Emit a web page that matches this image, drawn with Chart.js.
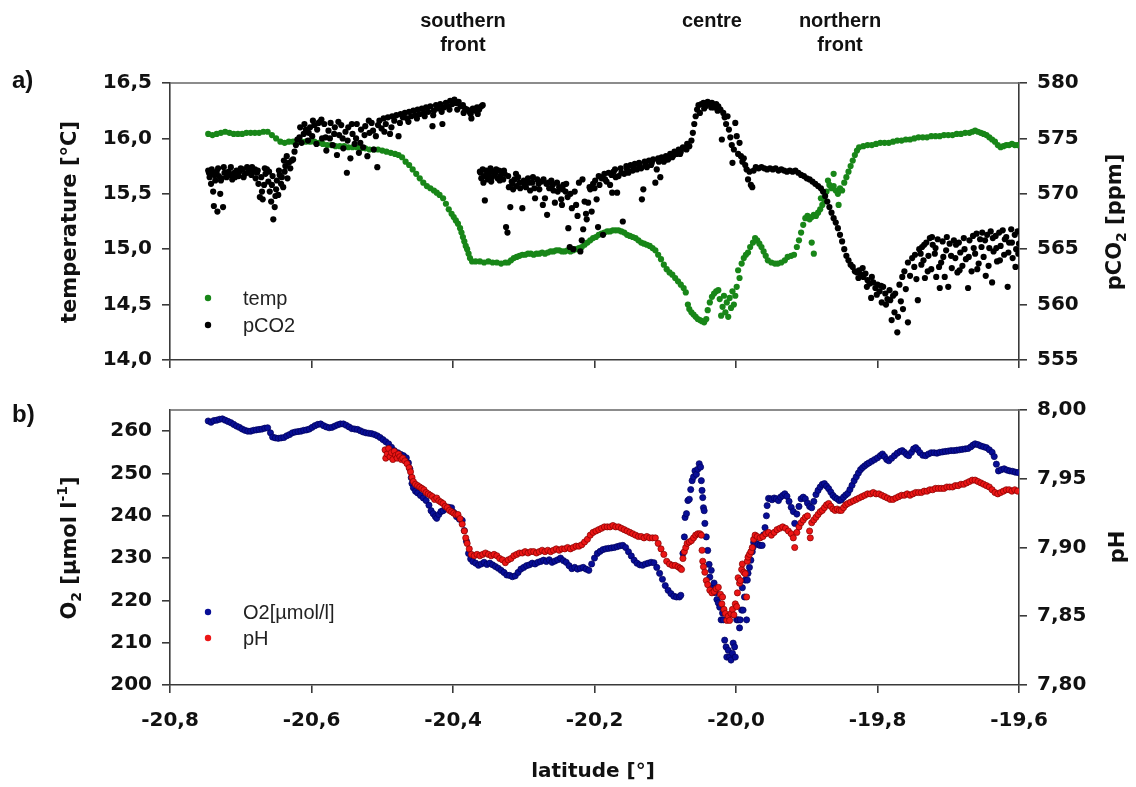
<!DOCTYPE html>
<html>
<head>
<meta charset="utf-8">
<script src="https://cdn.jsdelivr.net/npm/chart.js@4.4.1/dist/chart.umd.min.js"></script>
<style>
  body { margin: 0; background: #fff; }
  #wrap { position: relative; width: 1136px; height: 787px; }
  canvas { position: absolute; left: 0; }
</style>
</head>
<body>
<div id="wrap">
  <canvas id="chartA" width="1136" height="388" style="top:0px"></canvas>
  <canvas id="chartB" width="1136" height="399" style="top:388px"></canvas>
</div>
<script>
// tick values
const latTicks = [-20.8, -20.6, -20.4, -20.2, -20.0, -19.8, -19.6];
const tempTicks = [14.0, 14.5, 15.0, 15.5, 16.0, 16.5];
const pco2Ticks = [555, 560, 565, 570, 575, 580];
const o2Ticks = [200, 210, 220, 230, 240, 250, 260];
const phTicks = [7.80, 7.85, 7.90, 7.95, 8.00];

// front names on top, at their latitude
const frontNames = [["southern", "front"], ["centre"], ["northern", "front"]];
const frontLat = [-20.386, -20.034, -19.853];

// [latitude, temperature °C]
const tempData = [
  [-20.746,16.04],[-20.740,16.03],[-20.734,16.04],[-20.728,16.05],[-20.722,16.06],[-20.716,16.05],[-20.710,16.04],[-20.704,16.04],
  [-20.698,16.04],[-20.692,16.05],[-20.686,16.05],[-20.680,16.05],[-20.674,16.05],[-20.668,16.06],[-20.662,16.06],[-20.656,16.03],
  [-20.650,16.00],[-20.644,15.97],[-20.638,15.96],[-20.632,15.97],[-20.626,15.97],[-20.620,15.97],[-20.614,15.97],[-20.608,15.97],
  [-20.602,15.97],[-20.596,15.97],[-20.590,15.96],[-20.584,15.95],[-20.578,15.94],[-20.572,15.94],[-20.566,15.93],[-20.560,15.93],
  [-20.554,15.93],[-20.548,15.92],[-20.542,15.92],[-20.536,15.92],[-20.530,15.91],[-20.524,15.91],[-20.518,15.90],[-20.512,15.90],
  [-20.506,15.90],[-20.500,15.89],[-20.494,15.88],[-20.488,15.87],[-20.482,15.86],[-20.477,15.85],[-20.472,15.83],[-20.467,15.79],
  [-20.462,15.76],[-20.457,15.72],[-20.452,15.68],[-20.447,15.64],[-20.442,15.60],[-20.437,15.57],[-20.432,15.55],[-20.427,15.53],
  [-20.423,15.51],[-20.419,15.49],[-20.414,15.46],[-20.410,15.41],[-20.406,15.36],[-20.402,15.32],[-20.399,15.29],[-20.396,15.26],
  [-20.393,15.23],[-20.390,15.19],[-20.388,15.15],[-20.386,15.11],[-20.384,15.07],[-20.382,15.03],[-20.380,15.00],[-20.378,14.96],
  [-20.376,14.92],[-20.373,14.89],[-20.368,14.89],[-20.362,14.89],[-20.356,14.88],[-20.350,14.89],[-20.344,14.88],[-20.338,14.88],
  [-20.332,14.87],[-20.326,14.88],[-20.322,14.88],[-20.318,14.90],[-20.314,14.92],[-20.310,14.93],[-20.306,14.94],[-20.302,14.95],
  [-20.298,14.95],[-20.294,14.96],[-20.290,14.96],[-20.286,14.95],[-20.282,14.96],[-20.278,14.96],[-20.274,14.97],[-20.270,14.96],
  [-20.266,14.97],[-20.262,14.98],[-20.258,14.98],[-20.254,14.99],[-20.250,14.99],[-20.246,14.98],[-20.242,14.98],[-20.238,14.99],
  [-20.234,14.98],[-20.230,14.99],[-20.226,15.00],[-20.222,15.01],[-20.218,15.02],[-20.214,15.04],[-20.210,15.06],[-20.206,15.08],
  [-20.202,15.10],[-20.198,15.11],[-20.194,15.13],[-20.190,15.14],[-20.186,15.15],[-20.182,15.16],[-20.178,15.16],[-20.174,15.17],
  [-20.170,15.17],[-20.166,15.17],[-20.162,15.16],[-20.158,15.15],[-20.154,15.13],[-20.150,15.12],[-20.146,15.11],[-20.142,15.10],
  [-20.138,15.08],[-20.134,15.06],[-20.130,15.05],[-20.126,15.04],[-20.122,15.03],[-20.118,15.01],[-20.114,14.99],[-20.110,14.95],
  [-20.106,14.91],[-20.102,14.86],[-20.098,14.82],[-20.094,14.79],[-20.090,14.77],[-20.086,14.74],[-20.082,14.71],[-20.078,14.68],
  [-20.074,14.65],[-20.071,14.61],[-20.068,14.50],[-20.066,14.46],[-20.063,14.43],[-20.060,14.41],[-20.057,14.39],[-20.054,14.37],
  [-20.051,14.36],[-20.048,14.35],[-20.045,14.34],[-20.042,14.37],[-20.040,14.45],[-20.037,14.52],[-20.034,14.57],[-20.031,14.60],
  [-20.028,14.62],[-20.025,14.63],[-20.023,14.55],[-20.021,14.40],[-20.019,14.48],[-20.017,14.58],[-20.015,14.43],[-20.013,14.52],
  [-20.011,14.39],[-20.009,14.56],[-20.007,14.47],[-20.005,14.62],[-20.003,14.50],[-20.001,14.58],[-19.999,14.66],[-19.997,14.81],
  [-19.995,14.74],[-19.992,14.87],[-19.989,14.92],[-19.986,14.95],[-19.983,14.97],[-19.980,15.02],[-19.976,15.06],[-19.973,15.10],
  [-19.970,15.08],[-19.967,15.05],[-19.964,15.02],[-19.961,14.98],[-19.958,14.94],[-19.955,14.90],[-19.950,14.88],[-19.945,14.87],
  [-19.941,14.87],[-19.936,14.88],[-19.931,14.90],[-19.927,14.93],[-19.922,14.94],[-19.918,14.95],[-19.914,15.02],[-19.911,15.08],
  [-19.908,15.15],[-19.905,15.22],[-19.902,15.28],[-19.899,15.30],[-19.896,15.27],[-19.893,15.29],[-19.893,15.06],[-19.890,15.31],
  [-19.890,14.96],[-19.887,15.30],[-19.884,15.33],[-19.881,15.36],[-19.880,15.46],[-19.878,15.40],[-19.875,15.44],[-19.872,15.52],
  [-19.870,15.62],[-19.868,15.58],[-19.865,15.55],[-19.862,15.57],[-19.862,15.68],[-19.859,15.53],[-19.856,15.50],[-19.855,15.40],
  [-19.853,15.55],[-19.850,15.53],[-19.847,15.60],[-19.844,15.65],[-19.841,15.70],[-19.838,15.75],[-19.835,15.80],[-19.832,15.85],
  [-19.829,15.89],[-19.826,15.92],[-19.820,15.93],[-19.814,15.94],[-19.808,15.94],[-19.802,15.95],[-19.796,15.96],[-19.790,15.96],
  [-19.784,15.96],[-19.778,15.97],[-19.772,15.98],[-19.766,15.98],[-19.760,15.99],[-19.754,15.99],[-19.748,16.00],[-19.742,16.01],
  [-19.736,16.01],[-19.730,16.01],[-19.724,16.02],[-19.718,16.02],[-19.712,16.02],[-19.706,16.03],[-19.700,16.03],[-19.694,16.03],
  [-19.688,16.04],[-19.682,16.04],[-19.676,16.05],[-19.670,16.05],[-19.666,16.06],[-19.662,16.07],[-19.658,16.06],[-19.654,16.05],
  [-19.650,16.04],[-19.646,16.03],[-19.642,16.01],[-19.638,15.99],[-19.634,15.97],[-19.630,15.94],[-19.626,15.92],[-19.622,15.93],
  [-19.618,15.94],[-19.614,15.94],[-19.610,15.95],[-19.606,15.94],[-19.602,15.94]
];

// [latitude, pCO2 ppm]
const pco2Data = [
  [-20.746,572.1],[-20.744,571.5],[-20.742,570.9],[-20.740,571.8],[-20.739,570.2],[-20.738,568.9],[-20.736,571.2],[-20.734,572.0],
  [-20.733,568.4],[-20.731,571.6],[-20.729,570.0],[-20.727,571.4],[-20.725,568.8],[-20.723,571.9],[-20.720,571.5],[-20.717,572.0],
  [-20.715,571.7],[-20.712,571.3],[-20.709,571.9],[-20.706,572.1],[-20.703,571.6],[-20.700,572.3],[-20.697,572.2],[-20.694,571.8],
  [-20.691,572.4],[-20.688,572.1],[-20.685,571.7],[-20.682,572.0],[-20.679,571.4],[-20.677,571.9],[-20.675,570.9],[-20.673,569.7],
  [-20.671,571.5],[-20.669,569.5],[-20.667,570.8],[-20.665,571.8],[-20.663,572.2],[-20.661,571.1],[-20.659,570.2],[-20.657,569.3],
  [-20.655,571.6],[-20.654,567.7],[-20.652,568.8],[-20.650,570.4],[-20.649,571.2],[-20.647,569.9],[-20.645,571.7],[-20.643,570.9],
  [-20.640,570.6],[-20.638,572.0],[-20.637,572.5],[-20.634,571.4],[-20.632,572.8],[-20.630,572.3],[-20.628,573.0],[-20.626,573.1],
  [-20.624,573.8],[-20.622,574.4],[-20.620,574.9],[-20.617,575.1],[-20.614,574.6],[-20.611,575.4],[-20.608,575.8],[-20.605,574.8],
  [-20.602,576.0],[-20.599,575.2],[-20.596,576.2],[-20.593,574.5],[-20.590,576.4],[-20.588,576.5],[-20.585,575.0],[-20.582,576.3],
  [-20.579,573.9],[-20.576,575.7],[-20.573,576.4],[-20.570,574.4],[-20.567,576.0],[-20.564,573.5],[-20.561,575.3],[-20.558,576.2],
  [-20.555,574.1],[-20.552,575.6],[-20.550,571.9],[-20.548,576.0],[-20.545,573.2],[-20.542,575.4],[-20.539,574.5],[-20.536,576.3],
  [-20.533,573.7],[-20.530,575.8],[-20.527,574.2],[-20.524,576.1],[-20.521,573.4],[-20.518,575.5],[-20.515,576.4],[-20.512,574.0],
  [-20.509,575.2],[-20.507,572.4],[-20.504,576.6],[-20.501,575.9],[-20.498,576.8],[-20.495,576.3],[-20.492,576.9],[-20.489,575.4],
  [-20.486,577.0],[-20.483,576.6],[-20.480,577.1],[-20.477,575.2],[-20.474,577.2],[-20.471,576.9],[-20.468,577.3],[-20.465,576.8],
  [-20.462,577.4],[-20.459,577.0],[-20.456,577.5],[-20.453,577.1],[-20.450,577.6],[-20.447,577.2],[-20.444,577.7],[-20.441,577.3],
  [-20.438,577.8],[-20.435,577.4],[-20.432,577.9],[-20.429,576.1],[-20.427,577.5],[-20.424,578.0],[-20.421,577.7],[-20.418,578.1],
  [-20.415,576.3],[-20.413,577.8],[-20.410,578.2],[-20.407,577.9],[-20.404,578.4],[-20.401,578.1],[-20.398,578.5],[-20.395,578.2],
  [-20.392,578.3],[-20.389,577.9],[-20.386,578.0],[-20.383,577.7],[-20.380,577.6],[-20.377,577.4],[-20.374,576.8],[-20.372,577.7],
  [-20.369,577.5],[-20.366,577.8],[-20.363,577.6],[-20.360,577.9],[-20.358,578.0],
  [-20.745,571.9],[-20.741,572.2],[-20.737,571.7],[-20.732,572.3],[-20.728,571.2],[-20.724,572.4],[-20.719,571.8],[-20.714,572.4],
  [-20.708,571.5],[-20.702,572.0],[-20.696,571.5],[-20.690,571.9],[-20.684,572.4],[-20.680,572.2],[-20.676,572.1],[-20.670,570.2],
  [-20.666,572.3],[-20.660,572.0],[-20.656,570.8],[-20.651,569.8],[-20.646,572.1],[-20.642,571.5],[-20.639,573.0],[-20.635,573.4],
  [-20.616,576.0],[-20.610,576.3],[-20.604,575.5],[-20.598,576.6],[-20.592,575.8],[-20.586,576.7],[-20.580,575.1],[-20.574,575.0],
  [-20.568,575.4],[-20.562,576.5],[-20.556,575.0],[-20.549,574.8],[-20.543,576.3],[-20.537,575.0],[-20.531,574.6],[-20.525,575.3],
  [-20.519,576.6],[-20.513,575.7],[-20.506,576.2],[-20.497,575.6],[-20.487,576.0],[-20.475,576.4],[-20.463,576.5],[-20.451,576.8],
  [-20.440,577.0],[-20.428,577.1],[-20.416,577.4],[-20.405,577.6],[-20.394,577.6],[-20.385,577.3],[-20.375,577.2],[-20.365,577.2],
  [-20.362,572.0],[-20.360,571.4],[-20.358,572.2],[-20.356,571.6],[-20.355,569.4],[-20.353,572.1],[-20.351,571.3],[-20.349,571.9],
  [-20.347,572.3],[-20.345,571.5],[-20.343,572.0],[-20.341,571.7],[-20.339,572.2],[-20.337,571.4],[-20.335,572.1],[-20.333,571.6],
  [-20.331,572.0],[-20.329,571.3],[-20.327,571.8],[-20.325,567.0],[-20.323,566.5],[-20.321,570.6],[-20.319,568.8],[-20.317,571.1],
  [-20.315,570.4],[-20.313,571.3],[-20.310,570.7],[-20.308,571.5],[-20.305,570.5],[-20.302,568.7],[-20.300,571.2],[-20.297,570.6],
  [-20.294,571.4],[-20.291,570.3],[-20.288,571.0],[-20.285,570.5],[-20.284,569.6],[-20.281,571.3],[-20.278,570.4],[-20.275,571.1],
  [-20.273,569.0],[-20.270,569.6],[-20.268,570.9],[-20.267,568.1],[-20.264,570.5],[-20.261,571.2],[-20.258,570.3],[-20.256,569.2],
  [-20.253,571.0],[-20.250,570.6],[-20.247,569.5],[-20.246,569.0],[-20.244,570.8],[-20.241,570.2],[-20.238,569.7],[-20.237,566.9],
  [-20.235,565.2],[-20.234,570.0],[-20.232,568.7],[-20.230,565.0],[-20.228,570.2],[-20.226,569.0],[-20.224,568.0],[-20.222,571.0],
  [-20.220,564.8],[-20.218,565.8],[-20.217,571.3],[-20.216,566.8],[-20.214,569.3],[-20.212,568.2],[-20.211,567.7],[-20.209,569.2],
  [-20.207,570.6],[-20.206,570.4],[-20.204,568.4],[-20.202,570.9],[-20.199,571.2],[-20.197,569.5],[-20.195,567.0],[-20.193,570.8],
  [-20.190,571.4],[-20.189,571.5],[-20.188,566.3],[-20.186,571.8],[-20.183,571.1],[-20.180,571.9],[-20.178,570.8],[-20.175,570.1],
  [-20.173,572.0],[-20.171,572.2],[-20.168,570.1],[-20.166,571.6],[-20.163,572.3],[-20.160,567.5],[-20.158,571.8],[-20.155,572.5],
  [-20.152,571.9],[-20.149,572.6],[-20.146,572.1],[-20.143,572.7],[-20.140,572.2],[-20.137,572.8],[-20.134,572.3],[-20.133,569.5],
  [-20.131,570.4],[-20.129,572.9],[-20.126,572.4],[-20.123,573.0],[-20.120,572.6],[-20.117,573.1],[-20.114,571.0],[-20.112,572.2],
  [-20.110,573.2],[-20.107,571.5],[-20.105,573.3],[-20.102,572.9],[-20.099,573.4],[-20.096,573.1],[-20.093,573.6],[-20.090,573.3],
  [-20.087,573.8],[-20.084,573.6],[-20.081,574.0],[-20.078,573.8],[-20.075,574.2],[-20.072,574.1],[-20.069,574.5],[-20.066,574.3],
  [-20.063,574.8],[-20.061,575.5],[-20.059,576.3],[-20.057,577.0],[-20.055,577.6],[-20.053,578.0],[-20.051,577.3],[-20.049,578.1],
  [-20.046,578.2],[-20.043,577.9],[-20.040,578.3],[-20.037,578.1],[-20.034,578.2],[-20.031,577.8],[-20.028,578.1],[-20.025,577.9],
  [-20.022,577.6],[-20.020,574.9],[-20.018,577.3],[-20.016,576.9],[-20.014,576.3],[-20.012,577.0],[-20.010,575.8],[-20.008,575.1],
  [-20.006,574.4],[-20.005,572.8],[-20.003,574.0],[-20.001,576.4],[-19.999,575.2],[-19.997,573.6],[-19.995,574.6],[-19.993,573.4],
  [-19.991,572.9],[-19.989,573.2],[-19.987,572.6],[-19.985,572.2],[-19.983,571.3],[-19.981,572.0],[-19.979,570.8],[-19.977,570.6],
  [-20.361,571.9],[-20.357,571.0],[-20.352,571.7],[-20.346,571.1],[-20.340,571.9],[-20.334,571.2],[-20.328,572.1],[-20.322,571.6],
  [-20.316,570.9],[-20.311,571.8],[-20.306,571.0],[-20.299,570.8],[-20.293,571.0],[-20.287,571.5],[-20.279,570.9],[-20.272,571.3],
  [-20.265,571.0],[-20.259,570.8],[-20.252,570.2],[-20.245,570.4],[-20.240,570.9],[-20.200,570.5],[-20.194,571.6],[-20.185,571.3],
  [-20.176,571.7],[-20.170,571.5],[-20.162,571.9],[-20.154,572.2],[-20.145,572.4],[-20.136,572.5],[-20.128,572.6],[-20.119,572.8],
  [-20.109,572.9],[-20.098,573.1],[-20.088,573.5],[-20.079,573.6],[-20.070,574.0],[-20.045,577.7],[-20.035,577.8],[-20.026,577.5],
  [-19.975,572.1],[-19.972,572.4],[-19.968,572.3],[-19.964,572.4],[-19.960,572.3],[-19.956,572.2],[-19.952,572.3],[-19.948,572.2],
  [-19.944,572.3],[-19.940,572.1],[-19.936,572.2],[-19.932,572.1],[-19.928,572.0],[-19.924,572.1],[-19.920,572.0],[-19.916,572.1],
  [-19.912,571.9],[-19.908,571.7],[-19.904,571.6],[-19.900,571.4],[-19.896,571.3],[-19.892,571.1],[-19.888,570.9],[-19.884,570.7],
  [-19.880,570.5],[-19.877,570.2],[-19.874,569.8],[-19.871,569.3],[-19.868,568.8],[-19.865,568.3],[-19.862,567.8],[-19.859,567.4],
  [-19.856,566.9],[-19.853,566.3],[-19.850,565.7],[-19.847,565.0],[-19.844,564.4],[-19.841,564.0],[-19.838,563.6],[-19.835,563.4],
  [-19.832,563.0],[-19.829,562.9],[-19.826,563.1],[-19.823,562.7],[-19.820,562.5],[-19.817,562.8],[-19.814,562.2],[-19.811,561.9],
  [-19.809,560.6],[-19.806,562.0],[-19.803,561.5],[-19.800,561.8],[-19.797,561.2],[-19.794,560.2],[-19.792,561.6],[-19.789,561.0],
  [-19.786,560.5],[-19.783,561.3],[-19.780,558.6],[-19.778,560.8],[-19.775,561.0],[-19.772,557.5],[-19.771,558.9],[-19.769,561.8],
  [-19.767,560.3],[-19.765,562.5],[-19.764,559.6],[-19.762,563.0],[-19.760,561.4],[-19.757,563.8],[-19.757,558.4],[-19.754,562.6],
  [-19.751,564.2],[-19.748,563.4],[-19.747,564.5],[-19.745,562.3],[-19.743,560.4],[-19.741,565.0],[-19.738,563.6],[-19.737,565.2],
  [-19.735,564.0],[-19.733,562.4],[-19.731,565.6],[-19.728,564.4],[-19.726,566.0],[-19.724,563.2],[-19.722,565.4],[-19.719,564.6],
  [-19.717,562.5],[-19.715,565.9],[-19.712,561.5],[-19.710,563.8],[-19.708,565.7],[-19.705,562.5],[-19.703,564.9],[-19.700,561.6],
  [-19.698,565.5],[-19.695,563.3],[-19.692,565.8],[-19.690,564.2],[-19.687,562.9],[-19.685,565.6],[-19.683,564.7],[-19.680,563.5],
  [-19.678,566.0],[-19.675,564.1],[-19.672,561.5],[-19.670,565.8],[-19.667,563.0],[-19.665,566.2],[-19.662,564.6],[-19.660,566.4],
  [-19.657,563.7],[-19.655,565.9],[-19.652,566.5],[-19.650,564.3],[-19.647,562.6],[-19.645,566.3],[-19.642,565.1],[-19.640,566.6],
  [-19.638,562.0],[-19.636,564.8],[-19.633,566.2],[-19.631,563.9],[-19.628,566.5],[-19.626,565.3],[-19.623,566.7],[-19.621,564.5],
  [-19.618,566.1],[-19.616,561.6],[-19.614,565.6],[-19.611,566.8],[-19.609,564.2],[-19.606,566.3],[-19.604,565.0],[-19.602,566.6],
  [-19.600,565.5],
  [-19.827,562.4],[-19.821,563.3],[-19.815,561.6],[-19.808,562.5],[-19.801,560.9],[-19.795,561.7],[-19.788,560.0],[-19.782,560.4],
  [-19.776,559.3],[-19.739,564.6],[-19.734,565.4],[-19.729,563.0],[-19.723,566.1],[-19.718,565.1],[-19.713,563.4],[-19.707,564.3],
  [-19.702,566.1],[-19.696,564.4],[-19.689,565.4],[-19.684,563.1],[-19.677,565.0],[-19.671,564.3],[-19.664,565.1],[-19.659,563.2],
  [-19.653,565.2],[-19.648,565.8],[-19.643,563.5],[-19.637,566.0],[-19.632,565.1],[-19.627,564.0],[-19.620,565.9],[-19.615,564.7],
  [-19.610,565.6],[-19.605,563.4],[-19.601,564.6]
];

// [latitude, O2 µmol/l]
const o2Data = [
  [-20.746,262.4],[-20.742,262.1],[-20.738,262.5],[-20.734,262.6],[-20.730,262.8],[-20.726,262.9],[-20.722,262.6],[-20.718,262.3],
  [-20.714,262.0],[-20.710,261.6],[-20.706,261.2],[-20.702,260.9],[-20.698,260.5],[-20.694,260.2],[-20.690,260.0],[-20.686,260.0],
  [-20.682,260.2],[-20.678,260.3],[-20.674,260.4],[-20.670,260.5],[-20.666,260.7],[-20.662,260.8],[-20.658,259.6],[-20.655,258.6],
  [-20.651,258.4],[-20.647,258.3],[-20.643,258.4],[-20.639,258.5],[-20.635,258.9],[-20.631,259.2],[-20.627,259.6],[-20.623,259.8],
  [-20.619,259.9],[-20.615,260.0],[-20.611,260.2],[-20.607,260.3],[-20.603,260.5],[-20.599,260.9],[-20.595,261.3],[-20.591,261.6],
  [-20.587,261.7],[-20.583,261.3],[-20.579,261.0],[-20.575,260.8],[-20.571,260.9],[-20.567,261.2],[-20.563,261.5],[-20.559,261.7],
  [-20.555,261.7],[-20.551,261.4],[-20.547,261.0],[-20.543,260.6],[-20.539,260.5],[-20.535,260.4],[-20.531,260.1],[-20.527,259.8],
  [-20.523,259.6],[-20.519,259.5],[-20.515,259.4],[-20.511,259.2],[-20.507,258.9],[-20.503,258.5],[-20.499,258.0],[-20.495,257.5],
  [-20.491,257.0],[-20.487,256.2],[-20.483,255.4],[-20.478,254.9],[-20.474,254.5],[-20.470,254.2],[-20.466,253.7],[-20.463,252.5],
  [-20.461,251.1],[-20.459,249.0],[-20.458,247.6],[-20.456,246.6],[-20.453,245.8],[-20.450,245.4],[-20.446,244.8],[-20.442,244.2],
  [-20.438,243.6],[-20.434,242.5],[-20.431,241.2],[-20.428,240.5],[-20.425,239.8],[-20.423,239.4],[-20.420,240.3],[-20.417,241.0],
  [-20.414,241.2],[-20.410,241.6],[-20.406,242.0],[-20.402,241.9],[-20.399,240.8],[-20.395,239.8],[-20.391,239.2],[-20.387,238.9],
  [-20.384,236.5],[-20.381,234.0],[-20.378,231.1],[-20.375,229.8],[-20.372,229.2],[-20.368,228.8],[-20.364,228.3],[-20.360,228.6],
  [-20.356,229.0],[-20.352,228.5],[-20.348,228.8],[-20.344,228.4],[-20.340,228.0],[-20.336,227.6],[-20.332,227.1],[-20.328,226.6],
  [-20.324,226.0],[-20.320,225.9],[-20.316,225.6],[-20.312,225.8],[-20.308,226.6],[-20.304,227.4],[-20.300,227.8],[-20.296,228.2],
  [-20.292,228.4],[-20.288,228.8],[-20.284,228.6],[-20.280,229.0],[-20.276,229.2],[-20.272,229.5],[-20.268,229.2],[-20.264,229.6],
  [-20.260,229.0],[-20.256,229.3],[-20.252,229.6],[-20.248,230.0],[-20.244,229.4],[-20.240,229.0],[-20.236,228.2],[-20.232,227.5],
  [-20.228,227.8],[-20.224,227.4],[-20.220,227.6],[-20.216,227.8],[-20.212,227.4],[-20.208,227.1],[-20.204,228.6],[-20.200,230.0],
  [-20.196,231.1],[-20.192,231.6],[-20.188,232.0],[-20.184,232.2],[-20.180,232.3],[-20.176,232.4],[-20.172,232.5],[-20.168,232.7],
  [-20.164,232.9],[-20.160,233.0],[-20.156,232.5],[-20.152,231.5],[-20.148,230.5],[-20.144,229.5],[-20.140,228.8],[-20.136,228.4],
  [-20.132,228.3],[-20.128,228.6],[-20.124,228.8],[-20.120,229.0],[-20.116,228.9],[-20.112,227.8],[-20.108,226.4],[-20.104,225.0],
  [-20.100,223.5],[-20.096,222.4],[-20.092,221.6],[-20.088,221.0],[-20.084,220.8],[-20.080,220.8],[-20.078,221.2],
  [-20.075,231.1],[-20.073,235.0],[-20.072,239.6],[-20.070,240.5],[-20.068,243.6],[-20.066,243.9],[-20.064,246.2],[-20.062,248.3],
  [-20.060,249.2],[-20.058,250.6],[-20.056,249.8],[-20.054,251.0],[-20.052,252.3],[-20.050,251.5],[-20.049,248.3],[-20.048,246.0],
  [-20.047,244.3],[-20.046,241.9],[-20.045,241.2],[-20.044,238.2],[-20.042,235.0],[-20.040,231.8],[-20.038,228.5],[-20.037,225.5],
  [-20.035,227.1],[-20.033,223.1],[-20.031,224.1],[-20.029,221.8],[-20.027,220.2],[-20.025,219.4],[-20.023,218.4],[-20.021,215.4],
  [-20.019,217.0],[-20.018,215.4],[-20.016,210.6],[-20.014,209.0],[-20.013,206.6],[-20.011,208.2],[-20.009,206.6],[-20.007,205.9],
  [-20.005,207.5],[-20.004,209.9],[-20.002,209.0],[-20.001,206.6],[-19.999,215.4],[-19.997,215.4],[-19.995,213.5],[-19.994,215.4],
  [-19.992,217.7],[-19.991,223.0],[-19.990,217.7],[-19.988,220.8],[-19.987,224.8],[-19.985,215.4],[-19.984,224.8],[-19.983,226.4],
  [-19.981,227.8],[-19.979,229.5],[-19.977,231.5],[-19.976,232.5],[-19.975,233.7],[-19.972,233.5],[-19.969,233.2],[-19.966,233.0],
  [-19.963,233.0],[-19.961,235.5],[-19.959,237.2],[-19.957,240.0],[-19.956,242.4],[-19.954,244.1],[-19.951,244.0],[-19.949,243.8],
  [-19.946,244.2],[-19.943,244.0],[-19.940,243.6],[-19.937,244.4],[-19.934,244.8],[-19.931,245.2],[-19.928,244.6],[-19.925,243.4],
  [-19.922,242.0],[-19.919,241.0],[-19.917,238.2],[-19.914,240.4],[-19.911,242.2],[-19.908,244.0],[-19.905,244.4],[-19.902,244.0],
  [-19.899,243.0],[-19.896,242.2],[-19.893,241.9],[-19.890,243.4],[-19.887,245.0],[-19.884,246.0],[-19.881,246.8],[-19.878,247.4],
  [-19.875,247.6],[-19.872,247.0],[-19.869,246.4],[-19.866,245.6],[-19.863,244.8],[-19.860,244.3],[-19.857,244.0],[-19.854,243.6],
  [-19.851,243.8],[-19.848,244.4],[-19.845,244.9],[-19.842,245.3],[-19.839,246.2],[-19.836,247.2],[-19.833,248.3],[-19.830,249.2],
  [-19.827,250.1],[-19.824,250.9],[-19.821,251.4],[-19.818,251.8],[-19.815,252.2],[-19.812,252.5],[-19.808,252.9],[-19.804,253.3],
  [-19.800,253.7],[-19.796,254.2],[-19.793,254.6],[-19.790,254.0],[-19.787,253.3],[-19.784,253.0],[-19.780,253.6],[-19.776,254.2],
  [-19.772,254.8],[-19.768,255.2],[-19.765,255.4],[-19.762,255.0],[-19.759,254.5],[-19.756,254.2],[-19.752,255.0],[-19.749,255.8],
  [-19.746,256.1],[-19.743,255.6],[-19.740,254.9],[-19.736,254.3],[-19.732,254.2],[-19.728,254.6],[-19.724,254.9],[-19.720,254.9],
  [-19.716,254.8],[-19.712,255.0],[-19.708,255.1],[-19.704,255.2],[-19.700,255.3],[-19.696,255.4],[-19.692,255.4],[-19.688,255.5],
  [-19.684,255.6],[-19.680,255.7],[-19.676,255.8],[-19.672,255.9],[-19.668,256.3],[-19.665,256.7],[-19.662,257.0],[-19.658,256.8],
  [-19.654,256.5],[-19.650,256.3],[-19.646,256.1],[-19.642,255.6],[-19.638,255.0],[-19.635,254.0],[-19.632,252.2],[-19.629,250.6],
  [-19.625,250.9],[-19.621,251.1],[-19.617,250.8],[-19.613,250.6],[-19.609,250.5],[-19.605,250.3],[-19.601,250.2]
];

// [latitude, pH]
const phData = [
  [-20.496,7.971],[-20.495,7.965],[-20.493,7.968],[-20.491,7.972],[-20.489,7.966],[-20.487,7.969],[-20.485,7.964],[-20.483,7.970],
  [-20.481,7.967],[-20.479,7.965],[-20.477,7.968],[-20.475,7.966],[-20.473,7.964],[-20.471,7.965],[-20.468,7.963],[-20.465,7.961],
  [-20.462,7.958],[-20.460,7.955],[-20.458,7.951],[-20.456,7.948],[-20.453,7.946],[-20.450,7.945],[-20.447,7.944],[-20.444,7.943],
  [-20.441,7.942],[-20.438,7.940],[-20.435,7.939],[-20.432,7.938],[-20.429,7.937],[-20.426,7.935],[-20.423,7.936],[-20.420,7.934],
  [-20.417,7.933],[-20.414,7.932],[-20.411,7.930],[-20.408,7.929],[-20.405,7.927],[-20.402,7.926],[-20.399,7.925],[-20.396,7.924],
  [-20.393,7.924],[-20.390,7.921],[-20.387,7.917],[-20.384,7.912],[-20.382,7.907],[-20.380,7.903],[-20.377,7.899],[-20.374,7.895],
  [-20.370,7.894],[-20.366,7.895],[-20.362,7.894],[-20.358,7.895],[-20.354,7.896],[-20.350,7.895],[-20.346,7.894],[-20.342,7.895],
  [-20.338,7.894],[-20.334,7.892],[-20.330,7.891],[-20.326,7.889],[-20.322,7.891],[-20.318,7.892],[-20.314,7.894],[-20.310,7.895],
  [-20.306,7.896],[-20.302,7.896],[-20.298,7.897],[-20.294,7.896],[-20.290,7.897],[-20.286,7.897],[-20.282,7.896],[-20.278,7.897],
  [-20.274,7.898],[-20.270,7.897],[-20.266,7.898],[-20.262,7.897],[-20.258,7.898],[-20.254,7.899],[-20.250,7.898],[-20.246,7.899],
  [-20.242,7.899],[-20.238,7.900],[-20.234,7.899],[-20.230,7.900],[-20.226,7.901],[-20.222,7.901],[-20.218,7.902],[-20.214,7.904],
  [-20.210,7.906],[-20.206,7.909],[-20.202,7.911],[-20.198,7.912],[-20.194,7.913],[-20.190,7.914],[-20.186,7.915],[-20.182,7.915],
  [-20.178,7.915],[-20.174,7.916],[-20.170,7.915],[-20.166,7.915],[-20.162,7.914],[-20.158,7.913],[-20.154,7.912],[-20.150,7.911],
  [-20.146,7.910],[-20.142,7.909],[-20.138,7.908],[-20.134,7.908],[-20.130,7.907],[-20.126,7.908],[-20.122,7.907],[-20.118,7.907],
  [-20.114,7.907],[-20.110,7.903],[-20.106,7.899],[-20.102,7.895],[-20.098,7.890],[-20.094,7.888],[-20.090,7.887],[-20.086,7.887],
  [-20.082,7.886],[-20.079,7.885],[-20.077,7.884],[-20.075,7.892],[-20.073,7.897],[-20.071,7.900],[-20.069,7.903],[-20.066,7.904],
  [-20.063,7.905],[-20.060,7.907],[-20.057,7.909],[-20.054,7.910],[-20.051,7.910],[-20.049,7.909],[-20.048,7.898],[-20.047,7.890],
  [-20.046,7.886],[-20.044,7.882],[-20.042,7.876],[-20.040,7.873],[-20.037,7.869],[-20.034,7.867],[-20.031,7.868],[-20.028,7.870],
  [-20.025,7.871],[-20.022,7.866],[-20.020,7.859],[-20.019,7.864],[-20.017,7.855],[-20.015,7.852],[-20.013,7.847],[-20.011,7.850],
  [-20.009,7.847],[-20.007,7.852],[-20.005,7.855],[-20.003,7.851],[-20.001,7.859],[-19.999,7.857],[-19.998,7.867],[-19.997,7.878],
  [-19.995,7.874],[-19.994,7.876],[-19.992,7.884],[-19.991,7.888],[-19.989,7.882],[-19.987,7.881],[-19.985,7.864],[-19.984,7.890],
  [-19.983,7.893],[-19.981,7.895],[-19.979,7.897],[-19.977,7.900],[-19.975,7.906],[-19.973,7.909],[-19.970,7.908],[-19.966,7.907],
  [-19.962,7.908],[-19.958,7.910],[-19.954,7.911],[-19.950,7.909],[-19.946,7.911],[-19.942,7.913],[-19.938,7.914],[-19.934,7.915],
  [-19.930,7.914],[-19.926,7.912],[-19.922,7.910],[-19.919,7.907],[-19.917,7.900],[-19.914,7.911],[-19.911,7.915],[-19.908,7.918],
  [-19.905,7.920],[-19.902,7.922],[-19.899,7.923],[-19.896,7.912],[-19.895,7.907],[-19.893,7.918],[-19.890,7.920],[-19.887,7.922],
  [-19.884,7.924],[-19.881,7.926],[-19.878,7.927],[-19.875,7.929],[-19.872,7.931],[-19.869,7.932],[-19.866,7.930],[-19.863,7.928],
  [-19.860,7.927],[-19.857,7.928],[-19.854,7.927],[-19.851,7.927],[-19.848,7.929],[-19.845,7.931],[-19.842,7.932],[-19.838,7.933],
  [-19.834,7.934],[-19.830,7.935],[-19.826,7.936],[-19.822,7.937],[-19.818,7.938],[-19.814,7.939],[-19.810,7.939],[-19.806,7.940],
  [-19.802,7.939],[-19.798,7.939],[-19.794,7.938],[-19.790,7.937],[-19.786,7.936],[-19.782,7.935],[-19.778,7.935],[-19.774,7.936],
  [-19.770,7.937],[-19.766,7.938],[-19.762,7.938],[-19.758,7.939],[-19.754,7.938],[-19.750,7.939],[-19.746,7.940],[-19.742,7.940],
  [-19.738,7.940],[-19.734,7.941],[-19.730,7.941],[-19.726,7.942],[-19.722,7.942],[-19.718,7.943],[-19.714,7.943],[-19.710,7.943],
  [-19.706,7.943],[-19.702,7.944],[-19.698,7.944],[-19.694,7.944],[-19.690,7.945],[-19.686,7.945],[-19.682,7.946],[-19.678,7.946],
  [-19.674,7.947],[-19.670,7.948],[-19.666,7.949],[-19.662,7.949],[-19.658,7.948],[-19.654,7.947],[-19.650,7.946],[-19.646,7.945],
  [-19.642,7.944],[-19.638,7.942],[-19.634,7.940],[-19.630,7.939],[-19.626,7.940],[-19.622,7.941],[-19.618,7.942],[-19.614,7.942],
  [-19.610,7.941],[-19.606,7.942],[-19.602,7.941]
];

const GREEN = "rgb(24,134,24)";
const BLACK = "#000";
const BLUE = "rgb(8,14,150)";
const RED = "rgb(236,22,22)";
const AXIS = "#3a3a3a";
const TEXT = "#111";

const tickFont = { family: "DejaVu Sans", weight: "bold", size: 20 };
const titleFont = "bold 21px 'DejaVu Sans'";
const titleSmall = "bold 14px 'DejaVu Sans'";

function comma(digits) {
  return function (v) {
    return Number(v).toFixed(digits).replace(".", ",");
  };
}

function pts(arr) {
  return arr.map(function (p) { return { x: p[0], y: p[1] }; });
}

function fixedTicks(list) {
  return function (scale) {
    scale.ticks = list.map(function (v) { return { value: v }; });
  };
}

function drawRuns(ctx, x, y, angle, runs) {
  ctx.save();
  ctx.translate(x, y);
  ctx.rotate(angle);
  let total = 0;
  runs.forEach(function (r) {
    ctx.font = r.font;
    r.w = ctx.measureText(r.text).width;
    total += r.w;
  });
  let cx = -total / 2;
  ctx.textBaseline = "middle";
  ctx.textAlign = "left";
  ctx.fillStyle = TEXT;
  runs.forEach(function (r) {
    ctx.font = r.font;
    ctx.fillText(r.text, cx, r.dy || 0);
    cx += r.w;
  });
  ctx.restore();
}

function legendRow(ctx, y, color, label) {
  ctx.save();
  ctx.fillStyle = color;
  ctx.beginPath();
  ctx.arc(208, y, 3.2, 0, Math.PI * 2);
  ctx.fill();
  ctx.font = "20px 'Liberation Sans'";
  ctx.fillStyle = "#222";
  ctx.textBaseline = "middle";
  ctx.textAlign = "left";
  ctx.fillText(label, 243, y + 1);
  ctx.restore();
}

function frameTop(chart) {
  const a = chart.chartArea;
  const ctx = chart.ctx;
  ctx.save();
  ctx.strokeStyle = "#666";
  ctx.lineWidth = 1.5;
  ctx.beginPath();
  ctx.moveTo(a.left, a.top);
  ctx.lineTo(a.right, a.top);
  ctx.stroke();
  ctx.restore();
}

function xAxis(showLabels, height) {
  return {
    type: "linear",
    min: -20.8,
    max: -19.6,
    afterBuildTicks: fixedTicks(latTicks),
    afterFit: function (s) { s.height = height; },
    border: { display: true, color: AXIS, width: 1.6 },
    grid: { display: true, drawOnChartArea: false, drawTicks: true, tickLength: 8, color: AXIS, lineWidth: 1.6 },
    ticks: {
      display: showLabels,
      font: tickFont,
      color: TEXT,
      padding: 16,
      maxRotation: 0,
      callback: comma(1)
    }
  };
}

function yAxis(pos, min, max, list, digits) {
  return {
    type: "linear",
    position: pos,
    min: min,
    max: max,
    afterBuildTicks: fixedTicks(list),
    afterFit: function (s) { s.width = pos === "left" ? 170 : 117; },
    border: { display: true, color: AXIS, width: 1.6 },
    grid: { display: true, drawOnChartArea: false, drawTicks: true, tickLength: 8, color: AXIS, lineWidth: 1.6 },
    ticks: { font: tickFont, color: TEXT, padding: 10, callback: comma(digits) }
  };
}

function series(label, data, axis, color, edge, order) {
  return {
    label: label,
    data: pts(data),
    yAxisID: axis,
    backgroundColor: color,
    borderColor: edge,
    borderWidth: edge === color ? 0 : 0.7,
    pointRadius: 3.1,
    pointHoverRadius: 3.1,
    order: order
  };
}

const decorA = {
  id: "decorA",
  afterDraw: function (chart) {
    const ctx = chart.ctx;
    const xs = chart.scales.x;
    frameTop(chart);
    ctx.save();
    ctx.fillStyle = TEXT;
    ctx.font = "bold 24px 'Liberation Sans'";
    ctx.textBaseline = "alphabetic";
    ctx.textAlign = "left";
    ctx.fillText("a)", 12, 88);
    ctx.font = "bold 20px 'Liberation Sans'";
    ctx.textAlign = "center";
    ctx.textBaseline = "middle";
    frontNames.forEach(function (lines, i) {
      const px = xs.getPixelForValue(frontLat[i]);
      lines.forEach(function (t, k) { ctx.fillText(t, px, 21 + k * 24); });
    });
    ctx.restore();
    drawRuns(ctx, 71, 222, -Math.PI / 2, [{ text: "temperature [°C]", font: titleFont }]);
    drawRuns(ctx, 1116, 222, -Math.PI / 2, [
      { text: "pCO", font: titleFont },
      { text: "2", font: titleSmall, dy: 6 },
      { text: " [ppm]", font: titleFont }
    ]);
    legendRow(ctx, 298, GREEN, "temp");
    legendRow(ctx, 325, BLACK, "pCO2");
  }
};

const decorB = {
  id: "decorB",
  afterDraw: function (chart) {
    const ctx = chart.ctx;
    frameTop(chart);
    ctx.save();
    ctx.fillStyle = TEXT;
    ctx.font = "bold 24px 'Liberation Sans'";
    ctx.textAlign = "left";
    ctx.textBaseline = "alphabetic";
    ctx.fillText("b)", 12, 34);
    ctx.restore();
    drawRuns(ctx, 71, 160, -Math.PI / 2, [
      { text: "O", font: titleFont },
      { text: "2", font: titleSmall, dy: 6 },
      { text: " [µmol l", font: titleFont },
      { text: "-1", font: titleSmall, dy: -8 },
      { text: "]", font: titleFont }
    ]);
    drawRuns(ctx, 1119, 159, -Math.PI / 2, [{ text: "pH", font: titleFont }]);
    drawRuns(ctx, 593, 384, 0, [{ text: "latitude [°]", font: "bold 20px 'DejaVu Sans'" }]);
    legendRow(ctx, 224, BLUE, "O2[µmol/l]");
    legendRow(ctx, 250, RED, "pH");
  }
};

new Chart(document.getElementById("chartA"), {
  type: "scatter",
  data: {
    datasets: [
      series("temp", tempData, "yT", GREEN, GREEN, 2),
      series("pCO2", pco2Data, "yC", BLACK, BLACK, 1)
    ]
  },
  options: {
    responsive: false,
    animation: false,
    devicePixelRatio: 1,
    layout: { padding: { top: 83, left: 0, right: 0, bottom: 0 } },
    plugins: { legend: { display: false }, tooltip: { enabled: false } },
    scales: {
      x: xAxis(false, 28),
      yT: yAxis("left", 14, 16.5, tempTicks, 1),
      yC: yAxis("right", 555, 580, pco2Ticks, 0)
    }
  },
  plugins: [decorA]
});

new Chart(document.getElementById("chartB"), {
  type: "scatter",
  data: {
    datasets: [
      series("O2[µmol/l]", o2Data, "yO", BLUE, "rgb(0,0,90)", 2),
      series("pH", phData, "yP", RED, "rgb(130,0,0)", 1)
    ]
  },
  options: {
    responsive: false,
    animation: false,
    devicePixelRatio: 1,
    layout: { padding: { top: 21, left: 0, right: 0, bottom: 0 } },
    plugins: { legend: { display: false }, tooltip: { enabled: false } },
    scales: {
      x: xAxis(true, 102),
      yO: yAxis("left", 200, 265, o2Ticks, 0),
      yP: yAxis("right", 7.8, 8.0, phTicks, 2)
    }
  },
  plugins: [decorB]
});
</script>
</body>
</html>
